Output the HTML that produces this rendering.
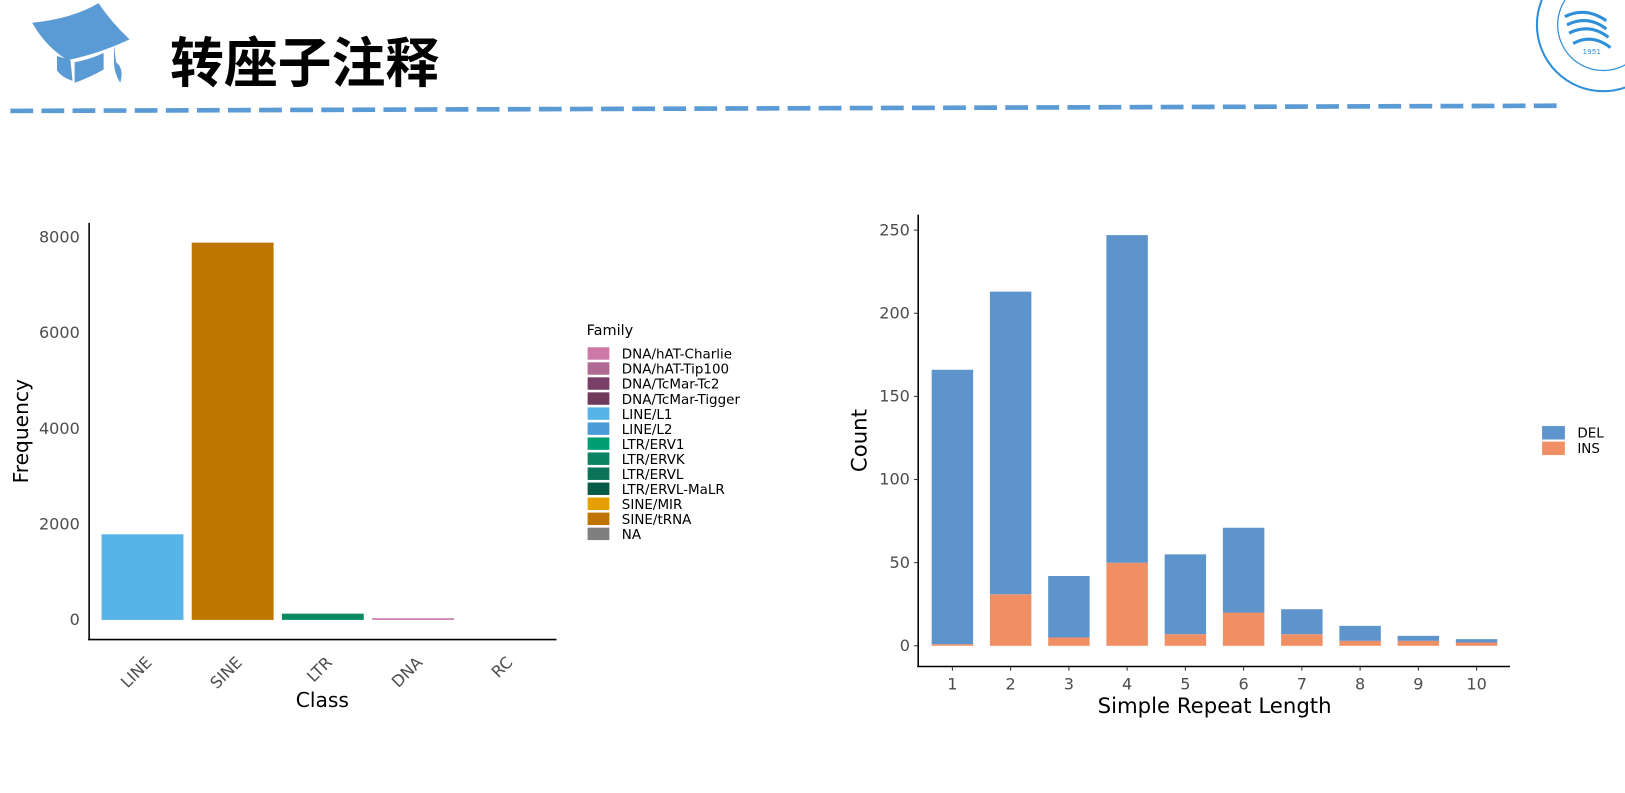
<!DOCTYPE html>
<html><head><meta charset="utf-8"><style>
html,body{margin:0;padding:0;background:#fff;}
svg{display:block;font-family:"DejaVu Sans","Liberation Sans",sans-serif;}
</style></head><body>
<svg id="root" width="1625" height="793" viewBox="0 0 1568 765" preserveAspectRatio="none" xmlns="http://www.w3.org/2000/svg">
  <g>
    <g fill="#5b9bd5">
      <path d="M31 22 Q70 18 95 3 Q108 22 125 38 Q95 52 65 58 Q44 45 31 22Z"/>
      <path d="M55 54 L68 58 L70 78 Q60 75 55 68Z"/>
      <path d="M72 60 Q88 57 100 51 L100 67 Q88 74 72 80Z"/>
      <path d="M110 43 L112 60 Q120 66 116 80 Q110 70 110 60Z"/>
    </g>
    <text x="164" y="79" font-family="'Liberation Sans','Noto Sans CJK SC',sans-serif" font-size="52" font-weight="bold" fill="#000">转座子注释</text>
    <line x1="10" y1="107" x2="1502" y2="102" stroke="#5b9bd5" stroke-width="4.5" stroke-dasharray="22 8"/>
    <g fill="none" stroke="#2f8fd8">
      <circle cx="1547" cy="24" r="64" stroke-width="2"/>
      <circle cx="1547" cy="24" r="44" stroke-width="1.2"/>
      <path d="M1510 16 Q1530 6 1550 20 M1512 24 Q1532 14 1550 28 M1514 32 Q1534 22 1552 36 M1518 42 Q1536 32 1554 46" stroke-width="3"/>
      <text x="1527" y="52" font-size="7" fill="#2f8fd8" stroke="none">1951</text>
    </g>
  </g>

  <g id="chart1"></g>
  <g id="chart2"></g>
</svg>
<script>
const classCats = ["LINE","SINE","LTR","DNA","RC"];
const classValues = [1790, 7890, 130, 35, 0];
const classColors = ["#56b4e9","#be7600","#0a8a62","#c77bab","#888888"];
const freqTicks = [0, 2000, 4000, 6000, 8000];
const familyLabels = ["DNA/hAT-Charlie","DNA/hAT-Tip100","DNA/TcMar-Tc2","DNA/TcMar-Tigger","LINE/L1","LINE/L2","LTR/ERV1","LTR/ERVK","LTR/ERVL","LTR/ERVL-MaLR","SINE/MIR","SINE/tRNA","NA"];
const familyColors = ["#cc79a7","#b06a94","#7a3f67","#6f3a5c","#56b4e9","#4b9bd8","#009e73","#0b8363","#0a7358","#075a45","#e69f00","#bf7400","#7f7f7f"];

const lengthCats = ["1","2","3","4","5","6","7","8","9","10"];
const insValues = [1, 31, 5, 50, 7, 20, 7, 3, 3, 2];
const delValues = [165, 182, 37, 197, 48, 51, 15, 9, 3, 2];
const countTicks = [0, 50, 100, 150, 200, 250];

const NS = "http://www.w3.org/2000/svg";
function mk(parent, tag, attrs, text) {
  const e = document.createElementNS(NS, tag);
  for (const k in attrs) e.setAttribute(k, attrs[k]);
  if (text !== undefined) e.textContent = text;
  parent.appendChild(e);
  return e;
}

// Chart 1
(function(){
  const g = document.getElementById("chart1");
  const y = v => 598 - v * (369 / 8000);
  const x = i => 137.5 + i * 87;
  const bw = 79;
  classCats.forEach((c, i) => {
    if (classValues[i] <= 0) return;
    const r = mk(g, "rect", {x: x(i) - bw/2, y: y(classValues[i]), width: bw, height: Math.max(598 - y(classValues[i]), 1.5), fill: classColors[i]});
    
    
  });
  mk(g, "line", {x1: 86, y1: 215, x2: 86, y2: 617, stroke: "#000", "stroke-width": 1.5});
  mk(g, "line", {x1: 85, y1: 617, x2: 537, y2: 617, stroke: "#000", "stroke-width": 1.5});
  freqTicks.forEach(t => {
    const tx = mk(g, "text", {x: 77, y: y(t) + 5, "text-anchor": "end", "font-size": 15.5, fill: "#4d4d4d"}, String(t));
    
    
  });
  classCats.forEach((c, i) => {
    const tx = mk(g, "text", {x: x(i) + 10, y: 640, "text-anchor": "end", "font-size": 15.5, fill: "#4d4d4d", transform: `rotate(-45 ${x(i)+10} 640)`}, c);
    
    
  });
  const xt = mk(g, "text", {x: 311, y: 682, "text-anchor": "middle", "font-size": 19.5, fill: "#000"}, "Class");
  
  
  const yt = mk(g, "text", {x: 27, y: 416, "text-anchor": "middle", "font-size": 19.5, fill: "#000", transform: "rotate(-90 27 416)"}, "Frequency");
  
  
  const lt = mk(g, "text", {x: 566, y: 323, "font-size": 14, fill: "#000"}, "Family");
  
  
  familyLabels.forEach((f, i) => {
    const yy = 335 + i * 14.5;
    const s = mk(g, "rect", {x: 567, y: yy, width: 21, height: 12, fill: familyColors[i]});
    
    
    const t = mk(g, "text", {x: 600, y: yy + 11, "font-size": 13, fill: "#000"}, f);
    
    
  });
})();

// Chart 2
(function(){
  const g = document.getElementById("chart2");
  const y = v => 623 - v * (401 / 250);
  const x = i => 919 + i * 56.2;
  const bw = 40;
  lengthCats.forEach((c, i) => {
    const r1 = mk(g, "rect", {x: x(i) - bw/2, y: y(insValues[i]), width: bw, height: 623 - y(insValues[i]), fill: "#f08f64"});
    
    
    const tot = insValues[i] + delValues[i];
    const r2 = mk(g, "rect", {x: x(i) - bw/2, y: y(tot), width: bw, height: y(insValues[i]) - y(tot), fill: "#5e94cc"});
    
    
  });
  mk(g, "line", {x1: 886, y1: 207, x2: 886, y2: 643, stroke: "#000", "stroke-width": 1.5});
  mk(g, "line", {x1: 885, y1: 643, x2: 1457, y2: 643, stroke: "#000", "stroke-width": 1.5});
  countTicks.forEach(t => {
    mk(g, "line", {x1: 882, y1: y(t), x2: 886, y2: y(t), stroke: "#333"});
    const tx = mk(g, "text", {x: 878, y: y(t) + 5, "text-anchor": "end", "font-size": 15.5, fill: "#4d4d4d"}, String(t));
    
    
  });
  lengthCats.forEach((c, i) => {
    mk(g, "line", {x1: x(i), y1: 643, x2: x(i), y2: 647, stroke: "#333"});
    const tx = mk(g, "text", {x: x(i), y: 665, "text-anchor": "middle", "font-size": 15.5, fill: "#4d4d4d"}, c);
    
    
  });
  const xt = mk(g, "text", {x: 1172, y: 688, "text-anchor": "middle", "font-size": 20.5, fill: "#000"}, "Simple Repeat Length");
  
  
  const yt = mk(g, "text", {x: 836, y: 425, "text-anchor": "middle", "font-size": 20.5, fill: "#000", transform: "rotate(-90 836 425)"}, "Count");
  
  
  [["DEL","#5e94cc",411],["INS","#f08f64",426]].forEach(([n,c,yy]) => {
    const s = mk(g, "rect", {x: 1488, y: yy, width: 22, height: 13, fill: c});
    
    
    const t = mk(g, "text", {x: 1522, y: yy + 11, "font-size": 13, fill: "#000"}, n);
    
    
  });
})();
</script>
</body></html>
